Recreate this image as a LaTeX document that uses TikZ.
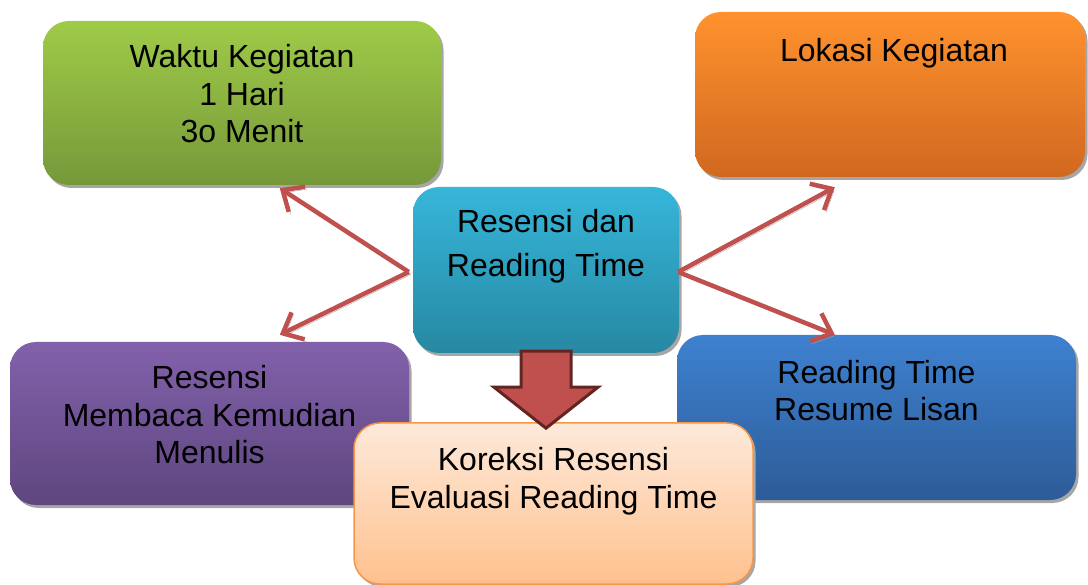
\documentclass[tikz,border=0pt]{standalone}
\usepackage{fontspec}
\setmainfont{Liberation Sans}
\usetikzlibrary{arrows.meta,calc,positioning,shadows}
\definecolor{grnTop}{HTML}{9FCB48}
\definecolor{grnBot}{HTML}{76983A}
\definecolor{orgTop}{HTML}{FF922E}
\definecolor{orgBot}{HTML}{D0681F}
\definecolor{tealTop}{HTML}{36B6DA}
\definecolor{tealBot}{HTML}{2788A2}
\definecolor{purTop}{HTML}{8261AB}
\definecolor{purBot}{HTML}{5E467F}
\definecolor{bluTop}{HTML}{3E81D0}
\definecolor{bluBot}{HTML}{2D5C98}
\definecolor{peachTop}{HTML}{FDE9DA}
\definecolor{peachBot}{HTML}{FFC18E}
\definecolor{peachRim}{HTML}{F79646}
\definecolor{linkRed}{HTML}{C0504D}
\definecolor{linkDark}{HTML}{632523}
\definecolor{shade}{HTML}{A6A6A6}
\newcommand{\BoxFont}{\fontsize{32}{37.5}\selectfont}
\tikzset{
  topic box/.style 2 args={
    rounded corners=26pt, top color=#1, bottom color=#2, draw=none,
    inner sep=0pt,
    drop shadow={shadow xshift=2.5pt, shadow yshift=-3pt, fill=shade, opacity=1}
  },
  % base anchor of a multi-line node sits on its last line
  topic text/.style={
    anchor=base, align=center, inner sep=0pt, font=\BoxFont, text=black
  },
  link arrow/.style={
    -{Straight Barb[length=17pt,width=30pt]}, line width=4.5pt, linkRed,
    preaction={draw=shade, transform canvas={xshift=2pt,yshift=-2.5pt}}
  },
  block arrow/.style={
    fill=linkRed, draw=linkDark, line width=3pt, line join=miter
  },
}

\begin{document}
\begin{tikzpicture}[x=1pt,y=-1pt]
  \useasboundingbox (0,0) rectangle (1088,585);

  % Upper boxes and the hub
  \node[topic box={grnTop}{grnBot}, minimum width=398pt, minimum height=164pt] (wkt) at (242,103) {};
  \node[topic text] (wktT) at ($(wkt.north)+(0,122)$) {Waktu Kegiatan\\1 Hari\\3o Menit};

  \node[topic box={orgTop}{orgBot}, minimum width=390pt, minimum height=165pt] (lok) at (890,94.5) {};
  \node[topic text] (lokT) at ($(lok.north)+(4,50)$) {Lokasi Kegiatan};

  \node[topic box={tealTop}{tealBot}, minimum width=266pt, minimum height=166pt] (ctr) at (546,270) {};
  \node[topic text, font=\fontsize{32}{44}\selectfont] (ctrT) at ($(ctr.north)+(0,90)$) {Resensi dan\\Reading Time};

  % Lower boxes
  \node[topic box={purTop}{purBot}, minimum width=399pt, minimum height=163pt] (res) at (209.5,423.5) {};
  \node[topic text] (resT) at ($(res.north)+(0,122)$) {Resensi\\Membaca Kemudian\\Menulis};

  \node[topic box={bluTop}{bluBot}, minimum width=399pt, minimum height=165pt] (rdt) at (876.5,417.5) {};
  \node[topic text] (rdtT) at ($(rdt.north)+(0,86)$) {Reading Time\\Resume Lisan};

  \node[topic box={peachTop}{peachBot}, draw=peachRim, line width=1.5pt,
        minimum width=399pt, minimum height=161pt] (kor) at (553.5,503.5) {};
  \node[topic text] (korT) at ($(kor.north)+(0,86)$) {Koreksi Resensi\\Evaluasi Reading Time};

  % Links out of the hub
  \coordinate (wktIn) at ($(wkt.south west)+(237,3)$);
  \coordinate (resIn) at ($(res.north west)+(270,-7)$);
  \coordinate (lokIn) at ($(lok.south west)+(140,10)$);
  \coordinate (rdtIn) at ($(rdt.north west)+(158,0)$);
  \draw[link arrow] ($(ctr.west)+(-4,2)$) -- (wktIn);
  \draw[link arrow] ($(ctr.west)+(-4,2)$) -- (resIn);
  \draw[link arrow] ($(ctr.east)+(-1,2)$) -- (lokIn);
  \draw[link arrow] ($(ctr.east)+(-1,2)$) -- (rdtIn);

  % Down arrow hub -> correction
  \draw[block arrow] (ctr.south) ++(-25,-2) -- ++(0,36) -- ++(-27,0) -- ++(52,41)
    -- ++(52,-41) -- ++(-27,0) -- ++(0,-36) -- cycle;
\end{tikzpicture}
\end{document}
